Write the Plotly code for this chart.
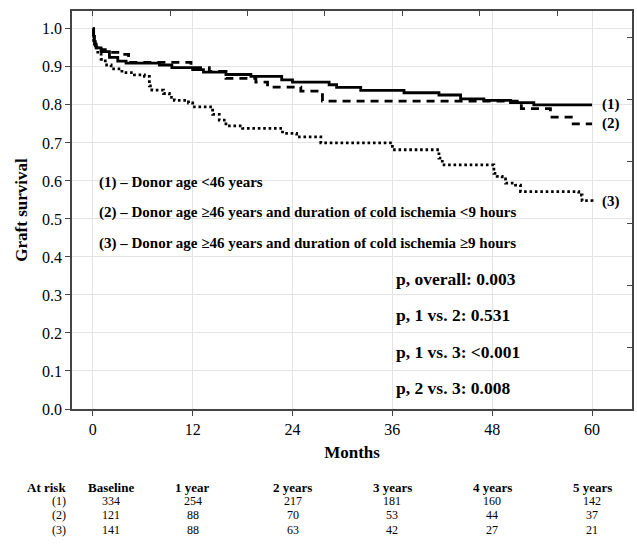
import plotly.graph_objects as go

# ---- data ----
t1 = [0, 0.1, 0.2, 0.4, 1.0, 2.0, 3.0, 4.0, 8.0, 9.5, 12.0, 13.3, 16.0, 19.0, 22.7, 24.0, 28.4, 29.3,
      32.2, 37.4, 41.6, 44.2, 47.0, 50.2, 53.0, 60.0]
s1 = [1.0, 0.98, 0.96, 0.95, 0.94, 0.925, 0.915, 0.91, 0.905, 0.898, 0.893, 0.886, 0.88, 0.875, 0.866,
      0.86, 0.853, 0.846, 0.838, 0.832, 0.826, 0.816, 0.812, 0.806, 0.80, 0.80]

t2 = [0, 0.1, 0.3, 0.6, 1.5, 3.5, 4.3, 11.8, 14.0, 16.0, 19.6, 21.0, 25.0, 27.6, 51.5, 55.0, 57.5, 60.0]
s2 = [1.0, 0.975, 0.955, 0.945, 0.938, 0.933, 0.912, 0.898, 0.888, 0.87, 0.86, 0.847, 0.836, 0.81,
      0.79, 0.768, 0.75, 0.75]

t3 = [0, 0.1, 0.3, 0.6, 1.0, 1.5, 2.2, 3.5, 5.0, 6.2, 6.8, 7.1, 8.5, 9.2, 9.8, 11.5, 12.0, 14.4, 15.2,
      16.0, 18.0, 22.8, 24.5, 27.4, 36.0, 41.6, 42.0, 48.2, 48.6, 49.2, 49.6, 50.8, 51.4, 58.4, 58.8, 60.0]
s3 = [1.0, 0.97, 0.95, 0.935, 0.92, 0.905, 0.895, 0.885, 0.879, 0.875, 0.85, 0.839, 0.83, 0.82, 0.812,
      0.805, 0.795, 0.775, 0.76, 0.745, 0.738, 0.725, 0.716, 0.70, 0.682, 0.66, 0.642, 0.62, 0.612,
      0.605, 0.594, 0.589, 0.572, 0.563, 0.548, 0.545]

curve_labels = ["(1)", "(2)", "(3)"]
legend_lines = [
    "(1) – Donor age <46 years",
    "(2) – Donor age ≥46 years and duration of cold ischemia <9 hours",
    "(3) – Donor age ≥46 years and duration of cold ischemia ≥9 hours",
]
p_lines = ["p, overall: 0.003", "p, 1 vs. 2: 0.531", "p, 1 vs. 3: <0.001", "p, 2 vs. 3: 0.008"]

x_ticks = [0, 12, 24, 36, 48, 60]
y_ticks = [0.0, 0.1, 0.2, 0.3, 0.4, 0.5, 0.6, 0.7, 0.8, 0.9, 1.0]
y_tick_text = ["0.0", "0.1", "0.2", "0.3", "0.4", "0.5", "0.6", "0.7", "0.8", "0.9", "1.0"]
top_minor_ticks = [0, 9.3, 18.6, 27.9, 37.2, 46.5, 55.8]
right_minor_ticks = [0.0, 0.163, 0.326, 0.489, 0.652, 0.815, 0.978]

risk_title = "At risk"
risk_header = ["Baseline", "1 year", "2 years", "3 years", "4 years", "5 years"]
risk_cols_x = [2.2, 12, 24, 36, 48, 60]
risk_rows = ["(1)", "(2)", "(3)"]
risk_1 = [334, 254, 217, 181, 160, 142]
risk_2 = [121, 88, 70, 53, 44, 37]
risk_3 = [141, 88, 63, 42, 27, 21]

FONT = "Liberation Serif"
fig = go.Figure()

fig.add_trace(go.Scatter(x=t1, y=s1, mode="lines", line=dict(color="black", width=2.8, shape="hv"),
                         showlegend=False, hoverinfo="skip"))
fig.add_trace(go.Scatter(x=t2, y=s2, mode="lines",
                         line=dict(color="black", width=2.8, shape="hv", dash="8px,6px"),
                         showlegend=False, hoverinfo="skip"))
fig.add_trace(go.Scatter(x=t3, y=s3, mode="lines",
                         line=dict(color="black", width=2.8, shape="hv", dash="2.6px,2.8px"),
                         showlegend=False, hoverinfo="skip"))
# dummy trace for the secondary (tick-only) axes
fig.add_trace(go.Scatter(x=[None], y=[None], xaxis="x2", yaxis="y2", showlegend=False, hoverinfo="skip"))

# curve end labels
for lab, s in zip(curve_labels, [s1, s2, s3]):
    fig.add_annotation(x=61.0, y=s[-1], text="<b>" + lab + "</b>", showarrow=False, xanchor="left",
                       yanchor="middle", font=dict(family=FONT, size=15, color="black"))

# legend text
for i, txt in enumerate(legend_lines):
    fig.add_annotation(x=0.5, y=0.597 - 0.081 * i, text="<b>" + txt + "</b>", showarrow=False,
                       xanchor="left", yanchor="middle", font=dict(family=FONT, size=15, color="black"))

# p values
for i, txt in enumerate(p_lines):
    fig.add_annotation(x=36.2, y=0.342 - 0.0955 * i, text="<b>" + txt + "</b>", showarrow=False,
                       xanchor="left", yanchor="middle", font=dict(family=FONT, size=17.5, color="black"))

# at-risk table
HDR_Y = -0.196
ROW_Y0 = -0.232
ROW_DY = 0.0355
fig.add_annotation(x=-0.008, y=HDR_Y, xref="paper", yref="paper", text="<b>" + risk_title + "</b>",
                   showarrow=False, xanchor="right", yanchor="middle",
                   font=dict(family=FONT, size=13, color="black"))
for xc, h in zip(risk_cols_x, risk_header):
    fig.add_annotation(x=xc, y=HDR_Y, xref="x", yref="paper", text="<b>" + h + "</b>", showarrow=False,
                       xanchor="center", yanchor="middle", font=dict(family=FONT, size=13, color="black"))
for r, (lab, vals) in enumerate(zip(risk_rows, [risk_1, risk_2, risk_3])):
    yy = ROW_Y0 - ROW_DY * r
    fig.add_annotation(x=-0.008, y=yy, xref="paper", yref="paper", text=lab, showarrow=False,
                       xanchor="right", yanchor="middle", font=dict(family=FONT, size=12, color="black"))
    for xc, v in zip(risk_cols_x, vals):
        fig.add_annotation(x=xc, y=yy, xref="x", yref="paper", text=str(v), showarrow=False,
                           xanchor="center", yanchor="middle", font=dict(family=FONT, size=12, color="black"))

fig.update_layout(
    width=637, height=544,
    margin=dict(l=72, r=3, t=11, b=135),
    paper_bgcolor="white", plot_bgcolor="white",
    font=dict(family=FONT, size=15, color="black"),
    xaxis=dict(range=[-2.5, 64.8], tickvals=x_ticks, ticks="outside", ticklen=5, tickcolor="#444",
               showgrid=True, gridcolor="#e3e3e3", gridwidth=1, zeroline=False,
               showline=True, linecolor="#444", linewidth=1.5, mirror=True,
               tickfont=dict(family=FONT, size=16),
               title=dict(text="<b>Months</b>", font=dict(family=FONT, size=17), standoff=9)),
    yaxis=dict(range=[0, 1.047], tickvals=y_ticks, ticktext=y_tick_text, ticks="outside", ticklen=5,
               tickcolor="#444", showgrid=True, gridcolor="#e3e3e3", gridwidth=1, zeroline=False,
               showline=True, linecolor="#444", linewidth=1.5, mirror=True,
               tickfont=dict(family=FONT, size=16),
               title=dict(text="<b>Graft survival</b>", font=dict(family=FONT, size=17), standoff=10)),
    xaxis2=dict(range=[-2.5, 64.8], overlaying="x", side="top", anchor="y", tickvals=top_minor_ticks,
                ticks="inside", ticklen=5, tickcolor="#444", showticklabels=False, showgrid=False,
                zeroline=False, showline=False),
    yaxis2=dict(range=[0, 1.047], overlaying="y", side="right", anchor="x", tickvals=right_minor_ticks,
                ticks="inside", ticklen=5, tickcolor="#444", showticklabels=False, showgrid=False,
                zeroline=False, showline=False),
)

fig.write_html("out.html")
